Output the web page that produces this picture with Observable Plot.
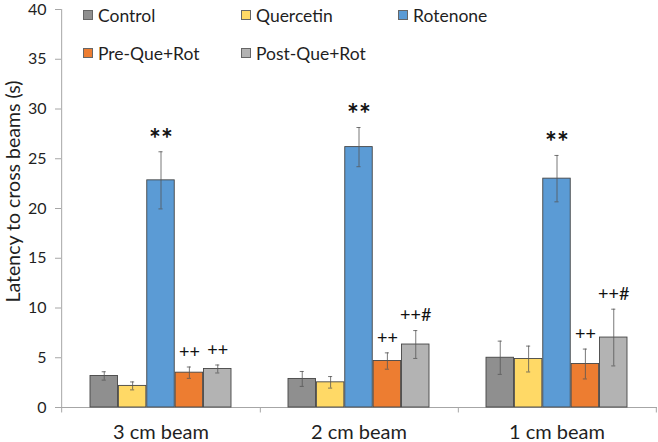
<!DOCTYPE html>
<html>
<head>
<meta charset="utf-8">
<script src="https://cdn.jsdelivr.net/npm/d3@7"></script>
<script src="https://cdn.jsdelivr.net/npm/@observablehq/plot@0.6"></script>
<style>
  html, body { margin: 0; padding: 0; background: #fff; }
  #wrap { position: relative; width: 658px; height: 442px; font-family: Lato, "Open Sans", sans-serif; }
  #legend { position: absolute; left: 0; top: 0; width: 658px; height: 70px; pointer-events: none; }
  .item { position: absolute; display: flex; align-items: center; font-size: 17.5px; color: #1f1f1f; white-space: nowrap; }
  .sw { width: 10px; height: 10px; border: 1px solid #666; margin-right: 5px; box-sizing: border-box; }
</style>
</head>
<body>
<div id="wrap"><div id="legend"></div></div>
<script>
// ---- data ----
const beams = ["3 cm beam", "2 cm beam", "1 cm beam"];
const series = ["Control", "Quercetin", "Rotenone", "Pre-Que+Rot", "Post-Que+Rot"];
const colors = ["#8f8f8f", "#ffd966", "#5b9bd5", "#ed7d31", "#b3b3b3"];

const controlMean = [3.17, 2.87, 5.0];
const controlErr = [0.42, 0.75, 1.67];
const quercetinMean = [2.17, 2.53, 4.87];
const quercetinErr = [0.4, 0.58, 1.3];
const rotenoneMean = [22.83, 26.17, 23.0];
const rotenoneErr = [2.87, 1.97, 2.33];
const preMean = [3.5, 4.67, 4.37];
const preErr = [0.57, 0.82, 1.5];
const postMean = [3.87, 6.33, 7.03];
const postErr = [0.4, 1.4, 2.85];

const controlNote = ["", "", ""];
const quercetinNote = ["", "", ""];
const rotenoneNote = ["**", "**", "**"];
const preNote = ["++", "++", "++"];
const postNote = ["++", "++#", "++#"];

const yTicks = [0, 5, 10, 15, 20, 25, 30, 35, 40];
const yLabel = "Latency to cross beams (s)";

// ---- table ----
const means = [controlMean, quercetinMean, rotenoneMean, preMean, postMean];
const errs = [controlErr, quercetinErr, rotenoneErr, preErr, postErr];
const notes = [controlNote, quercetinNote, rotenoneNote, preNote, postNote];
const rows = [];
series.forEach((s, i) => beams.forEach((b, j) => rows.push({
  beam: b, series: s, i, mean: means[i][j], err: errs[i][j], note: notes[i][j]
})));

// ---- layout ----
const W = 658, H = 442;
const mL = 61, mR = 1, mT = 9, mB = 35;
const step = (W - mL - mR) / beams.length;
const slot = step / 7;      // bar width; gap = one bar width each side
const cap = 2.5;

const marks = [
  Plot.ruleY([0], {stroke: "#a6a6a6", strokeWidth: 1}),
  Plot.ruleX(beams.slice(0, 1), {x: d => d, y1: -0.55, y2: 40, dx: -3.5 * slot, stroke: "#a6a6a6"}),
  Plot.ruleX(beams, {x: d => d, y1: -0.55, y2: 0, dx: 3.5 * slot, stroke: "#a6a6a6"}),
  Plot.axisY({ticks: yTicks, tickSize: 6, tickPadding: 9, fontSize: 16, stroke: "#a6a6a6", label: null}),
  Plot.text([yLabel], {text: d => d, frameAnchor: "left", textAnchor: "middle", rotate: -90, dx: -48, dy: -17,
                       fontSize: 19.5, fill: "#1f1f1f"}),
  Plot.axisX({tickSize: 0, tickPadding: 17, fontSize: 20, label: null, fill: "#1f1f1f"})
];

series.forEach((s, i) => {
  const sub = rows.filter(d => d.i === i);
  const off = (i - 2) * slot;
  const isRot = s === "Rotenone";
  marks.push(
    Plot.barY(sub, {x: "beam", y: "mean", fill: colors[i], stroke: "#454545", strokeWidth: 0.9,
                    insetLeft: i * slot, insetRight: (4 - i) * slot}),
    Plot.ruleX(sub, {x: "beam", y1: d => d.mean - d.err, y2: d => d.mean + d.err, dx: off,
                     stroke: "#555", strokeWidth: 0.8}),
    Plot.tickY(sub, {x: "beam", y: d => d.mean + d.err, stroke: "#555", strokeWidth: 0.8,
                     insetLeft: i * slot + slot / 2 - cap, insetRight: (4 - i) * slot + slot / 2 - cap}),
    Plot.tickY(sub, {x: "beam", y: d => d.mean - d.err, stroke: "#555", strokeWidth: 0.8,
                     insetLeft: i * slot + slot / 2 - cap, insetRight: (4 - i) * slot + slot / 2 - cap}),
    Plot.text(sub.filter(d => d.note), {x: "beam", y: d => d.mean + d.err, text: "note", dx: off,
                     dy: isRot ? -12 : -15, fontSize: isRot ? 28 : 18,
                     fontWeight: isRot ? "bold" : "normal", fill: "#111", lineAnchor: "middle"})
  );
});

const chart = Plot.plot({
  width: W, height: H,
  marginLeft: mL, marginRight: mR, marginTop: mT, marginBottom: mB,
  style: {fontFamily: "Lato, 'Open Sans', sans-serif", color: "#1f1f1f", background: "#fff"},
  x: {domain: beams, paddingInner: 2 / 7, paddingOuter: 1 / 7, align: 0.5},
  y: {domain: [0, 40]},
  marks
});
const wrap = document.getElementById("wrap");
wrap.insertBefore(chart, wrap.firstChild);

// ---- legend ----
const legend = document.getElementById("legend");
const legendPos = [[83, 15], [241, 15], [398, 15], [83, 53], [241, 53]];
series.forEach((s, i) => {
  const el = document.createElement("div");
  el.className = "item";
  el.style.left = legendPos[i][0] + "px";
  el.style.top = (legendPos[i][1] - 11) + "px";
  el.style.height = "22px";
  el.innerHTML = `<span class="sw" style="background:${colors[i]}"></span><span>${s}</span>`;
  legend.appendChild(el);
});
</script>
</body>
</html>
